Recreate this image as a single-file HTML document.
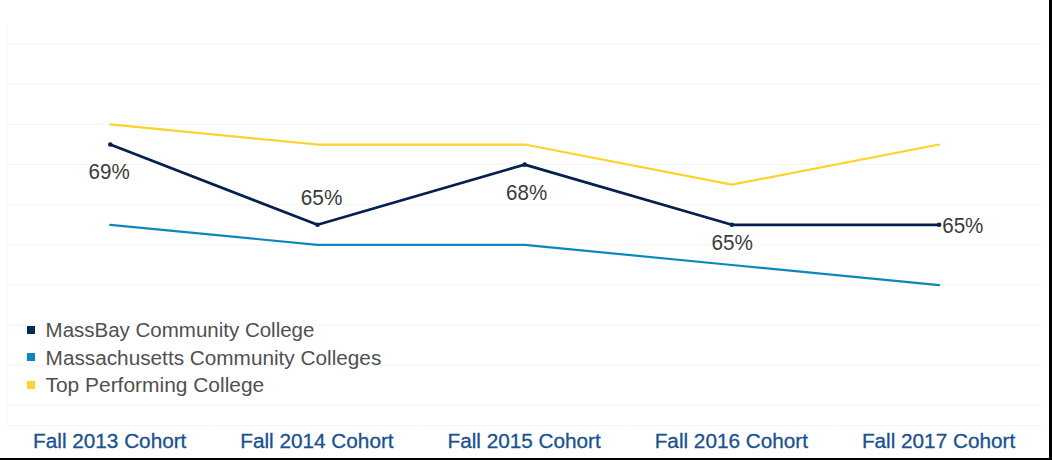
<!DOCTYPE html>
<html><head><meta charset="utf-8">
<style>
html,body{margin:0;padding:0;background:#fff;}
body{width:1052px;height:460px;overflow:hidden;position:relative;font-family:"Liberation Sans",sans-serif;}
svg{position:absolute;left:0;top:0;}
</style></head><body>
<svg width="1052" height="460" viewBox="0 0 1052 460">
<rect x="0" y="0" width="1052" height="460" fill="#fff"/>
<g stroke="#f5f5f5" stroke-width="1" fill="none">
<line x1="6.5" x2="1042.5" y1="44.15" y2="44.15"/>
<line x1="6.5" x2="1042.5" y1="84.30" y2="84.30"/>
<line x1="6.5" x2="1042.5" y1="124.45" y2="124.45"/>
<line x1="6.5" x2="1042.5" y1="164.60" y2="164.60"/>
<line x1="6.5" x2="1042.5" y1="204.75" y2="204.75"/>
<line x1="6.5" x2="1042.5" y1="244.90" y2="244.90"/>
<line x1="6.5" x2="1042.5" y1="285.05" y2="285.05"/>
<line x1="6.5" x2="1042.5" y1="325.20" y2="325.20"/>
<line x1="6.5" x2="1042.5" y1="365.35" y2="365.35"/>
<line x1="6.5" x2="1042.5" y1="405.50" y2="405.50"/>
<line x1="6.5" x2="1042.5" y1="425.60" y2="425.60"/>
<line x1="7" x2="7" y1="24" y2="426"/>
<line x1="213.9" x2="213.9" y1="426" y2="428"/><line x1="421.1" x2="421.1" y1="426" y2="428"/><line x1="628.3" x2="628.3" y1="426" y2="428"/><line x1="835.5" x2="835.5" y1="426" y2="428"/>
</g>
<g fill="none" stroke-linejoin="round" stroke-linecap="round">
<polyline stroke="#fdd22c" stroke-width="2.2" points="110.3,124.45 317.5,144.53 524.7,144.53 731.9,184.68 939.1,144.53"/>
<polyline stroke="#0a87be" stroke-width="2.2" points="110.3,224.82 317.5,244.9 524.7,244.9 731.9,264.97 939.1,285.05"/>
<polyline stroke="#04204f" stroke-width="2.7" points="110.3,144.53 317.5,224.82 524.7,164.6 731.9,224.82 939.1,224.82"/>
</g>
<g fill="#04204f">
<circle cx="110.3" cy="144.53" r="2.3"/><circle cx="317.5" cy="224.82" r="2.3"/><circle cx="524.7" cy="164.6" r="2.3"/><circle cx="731.9" cy="224.82" r="2.3"/><circle cx="939.1" cy="224.82" r="2.3"/>
</g>
<g fill="#3a3a3a" font-family="Liberation Sans" font-size="22">
<text x="88.5" y="178.9" textLength="41.2" lengthAdjust="spacingAndGlyphs">69%</text>
<text x="300.8" y="205.1" textLength="41.6" lengthAdjust="spacingAndGlyphs">65%</text>
<text x="506.1" y="199.9" textLength="41.1" lengthAdjust="spacingAndGlyphs">68%</text>
<text x="711.5" y="249.6" textLength="41.5" lengthAdjust="spacingAndGlyphs">65%</text>
<text x="942.2" y="233.0" textLength="41.2" lengthAdjust="spacingAndGlyphs">65%</text>
</g>
<rect x="27" y="326" width="8" height="8" fill="#002b5c"/>
<rect x="27" y="353" width="8" height="8" fill="#0a87be"/>
<rect x="27" y="381" width="8" height="8" fill="#fdd431"/>
<g fill="#505050" font-family="Liberation Sans" font-size="20">
<text x="45.6" y="336.9" textLength="268.8" lengthAdjust="spacingAndGlyphs">MassBay Community College</text>
<text x="45.6" y="364.6" textLength="335.7" lengthAdjust="spacingAndGlyphs">Massachusetts Community Colleges</text>
<text x="45.5" y="392.1" textLength="218.7" lengthAdjust="spacingAndGlyphs">Top Performing College</text>
</g>
<g fill="#1a5190" stroke="#1a5190" stroke-width="0.3" font-family="Liberation Sans" font-size="20">
<text x="33.1" y="448" textLength="153.3" lengthAdjust="spacingAndGlyphs">Fall 2013 Cohort</text>
<text x="240.3" y="448" textLength="153.3" lengthAdjust="spacingAndGlyphs">Fall 2014 Cohort</text>
<text x="447.5" y="448" textLength="153.3" lengthAdjust="spacingAndGlyphs">Fall 2015 Cohort</text>
<text x="654.7" y="448" textLength="153.3" lengthAdjust="spacingAndGlyphs">Fall 2016 Cohort</text>
<text x="861.9" y="448" textLength="153.3" lengthAdjust="spacingAndGlyphs">Fall 2017 Cohort</text>
</g>
<rect x="1049" y="0" width="3" height="460" fill="#000"/>
<rect x="0" y="458" width="1052" height="2" fill="#000"/>
</svg>
</body></html>
